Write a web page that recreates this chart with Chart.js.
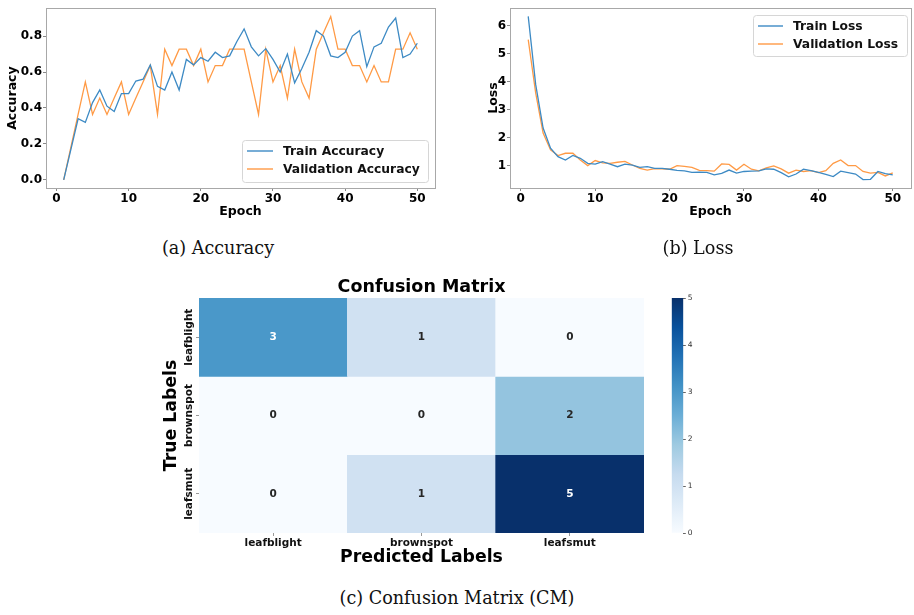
<!DOCTYPE html>
<html><head><meta charset="utf-8">
<script src="https://cdn.jsdelivr.net/npm/chart.js@4.4.1/dist/chart.umd.min.js"></script>
<style>
html,body{margin:0;padding:0;background:#fff;width:914px;height:615px;overflow:hidden}
.box{position:absolute}
.cap{position:absolute;font-family:'DejaVu Serif',serif;font-size:17.6px;color:#111;white-space:nowrap;transform:translate(-50%,-50%)}
</style></head><body>
<div class="box" style="left:0;top:0;width:450px;height:225px"><canvas id="acc"></canvas></div>
<div class="box" style="left:455px;top:0;width:459px;height:225px"><canvas id="loss"></canvas></div>
<div class="box" style="left:150px;top:270px;width:520px;height:310px"><canvas id="cm"></canvas></div>
<div class="box" style="left:640px;top:280px;width:80px;height:270px"><canvas id="cbar"></canvas></div>
<div class="cap" style="left:218px;top:248px">(a) Accuracy</div>
<div class="cap" style="left:698px;top:248px">(b) Loss</div>
<div class="cap" style="left:457px;top:598px">(c) Confusion Matrix (CM)</div>
<script>
// ---------- data ----------
const epochs = [1,2,3,4,5,6,7,8,9,10,11,12,13,14,15,16,17,18,19,20,21,22,23,24,25,26,27,28,29,30,31,32,33,34,35,36,37,38,39,40,41,42,43,44,45,46,47,48,49,50];
const trainAcc = [0.00,0.17,0.34,0.32,0.43,0.50,0.41,0.38,0.48,0.48, 0.55,0.56,0.64,0.52,0.50,0.60,0.50,0.67,0.64,0.68, 0.66,0.71,0.68,0.69,0.77,0.84,0.74,0.69,0.73,0.67, 0.60,0.70,0.54,0.62,0.71,0.83,0.80,0.69,0.68,0.71, 0.80,0.83,0.63,0.74,0.76,0.85,0.90,0.68,0.70,0.76];
const valAcc = [0.000,0.182,0.364,0.545,0.364,0.455,0.364,0.455,0.545,0.364, 0.455,0.545,0.636,0.364,0.727,0.636,0.727,0.727,0.636,0.727, 0.545,0.636,0.636,0.727,0.727,0.727,0.545,0.364,0.727,0.545, 0.636,0.455,0.727,0.545,0.455,0.727,0.818,0.909,0.727,0.727, 0.636,0.636,0.545,0.636,0.545,0.545,0.727,0.727,0.818,0.727];
const trainLoss = [6.33,3.90,2.34,1.62,1.32,1.20,1.36,1.26,1.08,1.05, 1.14,1.05,0.96,1.05,1.02,0.94,0.96,0.90,0.90,0.87, 0.83,0.81,0.76,0.77,0.76,0.67,0.72,0.84,0.73,0.79, 0.80,0.81,0.88,0.87,0.75,0.60,0.70,0.87,0.82,0.76, 0.69,0.61,0.80,0.75,0.70,0.50,0.51,0.79,0.71,0.67];
const valLoss = [5.50,3.60,2.16,1.56,1.36,1.44,1.44,1.20,1.00,1.18, 1.10,1.08,1.12,1.15,1.02,0.90,0.84,0.89,0.88,0.87, 1.00,0.97,0.94,0.83,0.82,0.80,1.06,1.04,0.84,1.05, 0.87,0.81,0.92,0.99,0.88,0.73,0.84,0.79,0.82,0.75, 0.82,1.08,1.20,1.00,1.00,0.79,0.73,0.76,0.63,0.74];
const epochTicks = [0,10,20,30,40,50];
const accTicks = [0.0,0.2,0.4,0.6,0.8];
const lossTicks = [1,2,3,4,5,6];
const trueLabels = ['leafblight','brownspot','leafsmut'];
const predLabels = ['leafblight','brownspot','leafsmut'];
const cmValues = [[3,1,0],[0,0,2],[0,1,5]];
const cbarTicks = [0,1,2,3,4,5];

// ---------- styles ----------
Chart.defaults.font.family = "'DejaVu Sans', sans-serif";
Chart.defaults.color = '#000';
const BLUE = '#3d8ac4', ORANGE = '#ff9a45';
const BLUES = ['#f7fbff','#deebf7','#c6dbef','#9ecae1','#6baed6','#4292c6','#2171b5','#08519c','#08306b'];
function hex(c){return [parseInt(c.slice(1,3),16),parseInt(c.slice(3,5),16),parseInt(c.slice(5,7),16)];}
function blues(t){
  t=Math.max(0,Math.min(1,t)); const n=BLUES.length-1; const k=Math.min(n-1,Math.floor(t*n)); const f=t*n-k;
  const a=hex(BLUES[k]), b=hex(BLUES[k+1]);
  return 'rgb('+a.map((v,i)=>Math.round(v+(b[i]-v)*f)).join(',')+')';
}

const frame = {id:'frame', afterDraw(chart){const {ctx,chartArea:a}=chart; ctx.save(); ctx.strokeStyle='#a8a8a8'; ctx.lineWidth=1;
  ctx.strokeRect(Math.round(a.left)+0.5,Math.round(a.top)+0.5,Math.round(a.right-a.left),Math.round(a.bottom-a.top)); ctx.restore();}};

const legendBox = {id:'legendBox', afterDraw(chart,args,o){
  const ctx=chart.ctx; ctx.save();
  const r=3; ctx.beginPath(); ctx.moveTo(o.x+r,o.y); ctx.arcTo(o.x+o.w,o.y,o.x+o.w,o.y+o.h,r); ctx.arcTo(o.x+o.w,o.y+o.h,o.x,o.y+o.h,r);
  ctx.arcTo(o.x,o.y+o.h,o.x,o.y,r); ctx.arcTo(o.x,o.y,o.x+o.w,o.y,r); ctx.closePath();
  ctx.fillStyle='rgba(255,255,255,0.85)'; ctx.fill(); ctx.strokeStyle='#d6d6d6'; ctx.lineWidth=1; ctx.stroke();
  ctx.font="bold 12.3px 'DejaVu Sans'"; ctx.textBaseline='middle'; ctx.textAlign='left';
  chart.data.datasets.forEach((ds,i)=>{const yy=o.rows[i];
    ctx.strokeStyle=ds.borderColor; ctx.lineWidth=1.4; ctx.beginPath(); ctx.moveTo(o.hx0,yy); ctx.lineTo(o.hx1,yy); ctx.stroke();
    ctx.fillStyle='#111'; ctx.fillText(ds.label,o.tx,yy+0.5);});
  ctx.restore();}};

function pts(ys){return epochs.map((e,i)=>({x:e,y:ys[i]}));}
function lineOpts(cfg){
  const tickFont={size:12,weight:'bold'}, titleFont={size:12.5,weight:'bold'};
  return {responsive:true, maintainAspectRatio:false, animation:false, events:[],
    layout:{padding:{top:8,right:cfg.padRight,left:0,bottom:0}},
    plugins:{legend:{display:false}, tooltip:{enabled:false}, legendBox:cfg.legend},
    scales:{
      x:{type:'linear', min:-1.45, max:52.45,
        afterBuildTicks:s=>{s.ticks=epochTicks.map(v=>({value:v}));}, afterFit:s=>{s.height=37;},
        grid:{drawOnChartArea:false, tickLength:3, color:'#888'}, border:{display:false},
        ticks:{font:tickFont, color:'#000', padding:1, maxRotation:0},
        title:{display:true, text:'Epoch', font:titleFont, color:'#000', padding:{top:0,bottom:6}}},
      y:{type:'linear', min:cfg.ymin, max:cfg.ymax,
        afterBuildTicks:s=>{s.ticks=cfg.yticks.map(v=>({value:v}));}, afterFit:s=>{s.width=cfg.yWidth;},
        grid:{drawOnChartArea:false, tickLength:3, color:'#888'}, border:{display:false},
        ticks:{font:tickFont, color:'#000', padding:1, callback:cfg.fmt},
        title:{display:true, text:cfg.ytitle, font:titleFont, color:'#000', padding:{top:cfg.titlePad,bottom:0}}}
    }};
}

new Chart(document.getElementById('acc'), {type:'line', plugins:[frame,legendBox],
  data:{datasets:[
    {label:'Train Accuracy', data:pts(trainAcc), borderColor:BLUE, borderWidth:1.3, pointRadius:0, tension:0},
    {label:'Validation Accuracy', data:pts(valAcc), borderColor:ORANGE, borderWidth:1.3, pointRadius:0, tension:0}]},
  options:lineOpts({padRight:15, ymin:-0.045, ymax:0.955, yticks:accTicks, yWidth:46, ytitle:'Accuracy', titlePad:5,
    fmt:v=>Number(v).toFixed(1), legend:{x:242.5,y:140.5,w:186,h:42,rows:[151,169],hx0:247,hx1:273,tx:283}})});

new Chart(document.getElementById('loss'), {type:'line', plugins:[frame,legendBox],
  data:{datasets:[
    {label:'Train Loss', data:pts(trainLoss), borderColor:BLUE, borderWidth:1.3, pointRadius:0, tension:0},
    {label:'Validation Loss', data:pts(valLoss), borderColor:ORANGE, borderWidth:1.3, pointRadius:0, tension:0}]},
  options:lineOpts({padRight:3, ymin:0.2, ymax:6.62, yticks:lossTicks, yWidth:55, ytitle:'Loss', titlePad:31,
    fmt:v=>String(v), legend:{x:298.5,y:15.5,w:154,h:41,rows:[26,44],hx0:303,hx1:328,tx:338}})});

// ---------- confusion matrix ----------
const cmMax = Math.max(...cmValues.flat());
const cmText = {id:'cmText', afterDraw(chart){
  const ctx=chart.ctx, a=chart.chartArea, ys=chart.scales.y; ctx.save();
  ctx.textAlign='center'; ctx.textBaseline='middle';
  ctx.font="bold 10.5px 'DejaVu Sans'";
  chart.data.datasets.forEach((ds,i)=>{const meta=chart.getDatasetMeta(i);
    meta.data.forEach((el,j)=>{const v=cmValues[i][j]; ctx.fillStyle=(v/cmMax>0.5)?'#ffffff':'#262626';
      ctx.fillText(String(v), el.x, (el.y+el.base)/2);});});
  ctx.font="bold 10.5px 'DejaVu Sans'"; ctx.fillStyle='#111';
  trueLabels.forEach((lab,i)=>{const yy=ys.getPixelForValue(i+0.5); ctx.save(); ctx.translate(a.left-10,yy); ctx.rotate(-Math.PI/2);
    ctx.fillText(lab,0,0); ctx.restore();});
  ctx.font="bold 17.5px 'DejaVu Sans'"; ctx.fillStyle='#000';
  ctx.fillText('Confusion Matrix',(a.left+a.right)/2,17);
  ctx.restore();}};

new Chart(document.getElementById('cm'), {type:'bar', plugins:[cmText],
  data:{labels:predLabels, datasets:trueLabels.map((lab,i)=>({label:lab, data:cmValues[i].map(()=>[i,i+1]),
    backgroundColor:cmValues[i].map(v=>blues(v/cmMax)), borderWidth:0, barPercentage:1, categoryPercentage:1, grouped:false}))},
  options:{responsive:true, maintainAspectRatio:false, animation:false, events:[],
    layout:{padding:{top:28,right:26,left:0,bottom:0}},
    plugins:{legend:{display:false}, tooltip:{enabled:false}},
    scales:{
      x:{type:'category', offset:true, afterFit:s=>{s.height=47;},
        grid:{offset:false, drawOnChartArea:false, tickLength:3, color:'#999'}, border:{display:false},
        ticks:{font:{size:10.5,weight:'bold'}, color:'#111', padding:0.5, maxRotation:0},
        title:{display:true, text:'Predicted Labels', font:{size:17.3,weight:'bold'}, color:'#000', padding:{top:0,bottom:12}}},
      y:{type:'linear', min:0, max:3, reverse:true, afterFit:s=>{s.width=49;},
        afterBuildTicks:s=>{s.ticks=trueLabels.map((l,i)=>({value:i+0.5}));},
        grid:{drawOnChartArea:false, tickLength:3, color:'#999'}, border:{display:false},
        ticks:{callback:()=>''},
        title:{display:true, text:'True Labels', font:{size:17.3,weight:'bold'}, color:'#000', padding:{top:11,bottom:0}}}
    }}});

// ---------- colorbar ----------
new Chart(document.getElementById('cbar'), {type:'bar',
  data:{labels:[''], datasets:[{data:[[cbarTicks[0], cbarTicks[cbarTicks.length-1]]], borderWidth:0, barPercentage:1, categoryPercentage:1,
    backgroundColor:(c)=>{const ch=c.chart; if(!ch.chartArea) return BLUES[0]; const y=ch.scales.y;
      const g=ch.ctx.createLinearGradient(0,y.getPixelForValue(cbarTicks[0]),0,y.getPixelForValue(cbarTicks[cbarTicks.length-1]));
      BLUES.forEach((col,i)=>g.addColorStop(i/(BLUES.length-1),col)); return g;}}]},
  options:{responsive:true, maintainAspectRatio:false, animation:false, events:[],
    layout:{padding:{top:18,right:0,left:31.7,bottom:17}},
    plugins:{legend:{display:false}, tooltip:{enabled:false}},
    scales:{
      x:{display:false, offset:true},
      y:{position:'right', min:cbarTicks[0], max:cbarTicks[cbarTicks.length-1], afterFit:s=>{s.width=36.7;},
        afterBuildTicks:s=>{s.ticks=cbarTicks.map(v=>({value:v}));},
        grid:{drawOnChartArea:false, tickLength:2.5, color:'#666'}, border:{display:false},
        ticks:{font:{size:7.5}, color:'#333', padding:2}}
    }}});
</script>
</body></html>
